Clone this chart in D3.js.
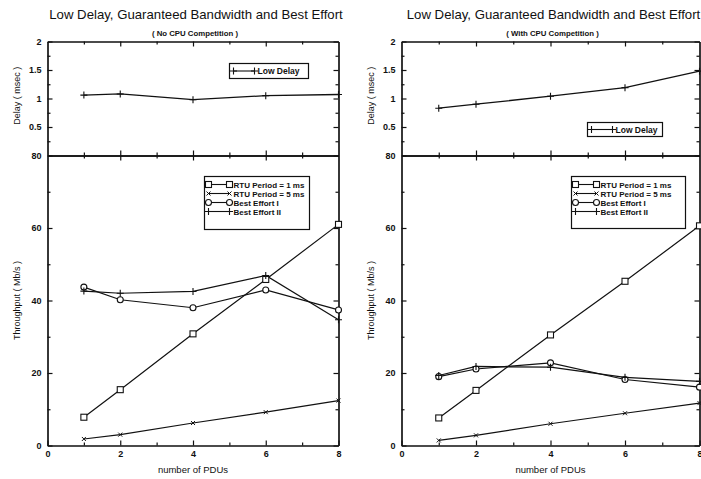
<!DOCTYPE html>
<html>
<head>
<meta charset="utf-8">
<script src="https://cdn.jsdelivr.net/npm/d3@7"></script>
<style>
  body { margin: 0; background: #fff; }
  text { font-family: "Liberation Sans", Arial, Helvetica, sans-serif; fill: #111; }
</style>
</head>
<body>
<div id="chart"></div>
<script>
// Data
var pdus = [1, 2, 4, 6, 8];

var delayNoCpu = [1.06, 1.08, 0.98, 1.05, 1.07];
var rtu1NoCpu = [7.8, 15.4, 30.8, 45.8, 61.0];
var rtu5NoCpu = [1.8, 3.0, 6.2, 9.2, 12.4];
var be1NoCpu = [43.7, 40.2, 38.0, 42.9, 37.4];
var be2NoCpu = [42.6, 42.0, 42.5, 46.9, 34.7];

var delayCpu = [0.83, 0.90, 1.04, 1.19, 1.48];
var rtu1Cpu = [7.6, 15.2, 30.5, 45.3, 60.6];
var rtu5Cpu = [1.4, 2.8, 6.0, 8.9, 11.7];
var be1Cpu = [19.0, 21.1, 22.8, 18.2, 16.1];
var be2Cpu = [19.3, 21.8, 21.6, 18.8, 17.7];

var xTicks = [0, 2, 4, 6, 8];
var delayTicks = [0.5, 1, 1.5, 2];
var tputTicks = [0, 20, 40, 60, 80];

var mainTitle = "Low Delay, Guaranteed Bandwidth and Best Effort";
var legendNames = ["RTU Period = 1 ms", "RTU Period = 5 ms", "Best Effort I", "Best Effort II"];

var width = 701, height = 479;

var svg = d3.select("#chart")
  .append("svg")
  .attr("width", width)
  .attr("height", height);

// Panel layout (pixels)
var plotTop = 41.5, plotMid = 155.5, plotBottom = 445.5;

var panels = [
  { left: 47.5, right: 338.5, sub: "( No CPU Competition )",
    delay: delayNoCpu, series: [rtu1NoCpu, rtu5NoCpu, be1NoCpu, be2NoCpu],
    delayLegend: [229.5, 63.5, 79, 15], legend: [204.5, 176.5, 105, 53] },
  { left: 401.5, right: 699.5, sub: "( With CPU Competition )",
    delay: delayCpu, series: [rtu1Cpu, rtu5Cpu, be1Cpu, be2Cpu],
    delayLegend: [587.5, 122.5, 75, 14], legend: [571.5, 176.5, 114, 52] }
];

var markers = ["square", "cross", "circle", "plus"];

// Draw one marker symbol at (cx, cy)
function marker(g, type, cx, cy) {
  if (type === "square") {
    g.append("rect").attr("x", cx - 3).attr("y", cy - 3).attr("width", 6).attr("height", 6)
      .attr("fill", "#fff").attr("stroke", "#111").attr("stroke-width", 1.1);
  } else if (type === "circle") {
    g.append("circle").attr("cx", cx).attr("cy", cy).attr("r", 3)
      .attr("fill", "#fff").attr("stroke", "#111").attr("stroke-width", 1.1);
  } else if (type === "plus") {
    g.append("path").attr("d", "M" + (cx - 3.5) + "," + cy + "h7M" + cx + "," + (cy - 3.5) + "v7")
      .attr("stroke", "#111").attr("stroke-width", 1.1);
  } else if (type === "cross") {
    g.append("path").attr("d", "M" + (cx - 2) + "," + (cy - 2) + "l4,4M" + (cx - 2) + "," + (cy + 2) + "l4,-4")
      .attr("stroke", "#111").attr("stroke-width", 1);
  }
}

panels.forEach(function (p) {
  var cx = (p.left + p.right) / 2;

  // Titles
  svg.append("text")
    .attr("x", cx + 3).attr("y", 19)
    .attr("text-anchor", "middle")
    .style("font-size", "13.2px")
    .text(mainTitle);
  svg.append("text")
    .attr("x", cx + 2).attr("y", 35.5)
    .attr("text-anchor", "middle")
    .style("font-size", "7.8px")
    .style("font-weight", "bold")
    .text(p.sub);

  // Scales
  var x = d3.scaleLinear().domain([0, 8]).range([p.left, p.right]);
  var yD = d3.scaleLinear().domain([0, 2]).range([plotMid, plotTop]);
  var yT = d3.scaleLinear().domain([0, 80]).range([plotBottom, plotMid]);

  // bottom axis with labels
  var gx = svg.append("g").attr("transform", "translate(0," + plotBottom + ")")
    .call(d3.axisBottom(x).tickValues(xTicks).tickSizeInner(-5).tickSizeOuter(0).tickPadding(5));
  gx.selectAll("text").style("font-size", "9px").style("font-weight", "bold");

  // minor and mirrored x ticks (top edge, divider, bottom edge)
  var minorX = [1, 3, 5, 7];
  [[plotBottom, -1], [plotMid, -1], [plotMid, 1], [plotTop, 1]].forEach(function (s) {
    svg.append("g").attr("transform", "translate(0," + s[0] + ")")
      .call(d3.axisBottom(x).tickValues(minorX).tickSizeInner(3 * s[1]).tickSizeOuter(0).tickFormat(""));
    if (s[0] !== plotBottom) {
      svg.append("g").attr("transform", "translate(0," + s[0] + ")")
        .call(d3.axisBottom(x).tickValues([2, 4, 6]).tickSizeInner(5 * s[1]).tickSizeOuter(0).tickFormat(""));
    }
  });

  // left y axes with labels
  var gyD = svg.append("g").attr("transform", "translate(" + p.left + ",0)")
    .call(d3.axisLeft(yD).tickValues(delayTicks).tickSizeInner(-5).tickSizeOuter(0).tickPadding(6)
      .tickFormat(d3.format("")));
  var gyT = svg.append("g").attr("transform", "translate(" + p.left + ",0)")
    .call(d3.axisLeft(yT).tickValues(tputTicks).tickSizeInner(-5).tickSizeOuter(0).tickPadding(6));
  [gyD, gyT].forEach(function (g) {
    g.selectAll("text").style("font-size", "9px").style("font-weight", "bold");
  });

  // minor y ticks and right side mirrors
  var minorD = [0.25, 0.75, 1.25, 1.75], minorT = [10, 30, 50, 70];
  svg.append("g").attr("transform", "translate(" + p.left + ",0)")
    .call(d3.axisLeft(yD).tickValues(minorD).tickSizeInner(-3).tickSizeOuter(0).tickFormat(""));
  svg.append("g").attr("transform", "translate(" + p.left + ",0)")
    .call(d3.axisLeft(yT).tickValues(minorT).tickSizeInner(-3).tickSizeOuter(0).tickFormat(""));
  svg.append("g").attr("transform", "translate(" + p.right + ",0)")
    .call(d3.axisRight(yD).tickValues(delayTicks).tickSizeInner(-5).tickSizeOuter(0).tickFormat(""));
  svg.append("g").attr("transform", "translate(" + p.right + ",0)")
    .call(d3.axisRight(yT).tickValues(tputTicks).tickSizeInner(-5).tickSizeOuter(0).tickFormat(""));
  svg.append("g").attr("transform", "translate(" + p.right + ",0)")
    .call(d3.axisRight(yD).tickValues(minorD).tickSizeInner(-3).tickSizeOuter(0).tickFormat(""));
  svg.append("g").attr("transform", "translate(" + p.right + ",0)")
    .call(d3.axisRight(yT).tickValues(minorT).tickSizeInner(-3).tickSizeOuter(0).tickFormat(""));

  svg.selectAll(".domain, .tick line").attr("stroke", "#111").attr("stroke-width", 1.2);

  // Axis titles
  svg.append("text")
    .attr("transform", "translate(" + (p.left - 28) + "," + yD(1.05) + ") rotate(-90)")
    .attr("text-anchor", "middle")
    .style("font-size", "9px")
    .text("Delay ( msec )");
  svg.append("text")
    .attr("transform", "translate(" + (p.left - 28) + "," + yT(40) + ") rotate(-90)")
    .attr("text-anchor", "middle")
    .style("font-size", "9px")
    .text("Throughput ( Mb/s )");
  svg.append("text")
    .attr("x", cx).attr("y", 473)
    .attr("text-anchor", "middle")
    .style("font-size", "9.5px")
    .text("number of PDUs");

  // Lines
  var lineD = d3.line().x(function (d, i) { return x(pdus[i]); }).y(function (d) { return yD(d); });
  var lineT = d3.line().x(function (d, i) { return x(pdus[i]); }).y(function (d) { return yT(d); });

  var plot = svg.append("g");
  plot.append("path").datum(p.delay).attr("d", lineD)
    .attr("fill", "none").attr("stroke", "#111").attr("stroke-width", 1.3);
  p.delay.forEach(function (v, i) { marker(plot, "plus", x(pdus[i]), yD(v)); });

  p.series.forEach(function (s) {
    plot.append("path").datum(s).attr("d", lineT)
      .attr("fill", "none").attr("stroke", "#111").attr("stroke-width", 1.2);
  });
  p.series.forEach(function (s, k) {
    s.forEach(function (v, i) { marker(plot, markers[k], x(pdus[i]), yT(v)); });
  });

  // Delay legend
  var dl = p.delayLegend;
  var lg = svg.append("g");
  lg.append("rect").attr("x", dl[0]).attr("y", dl[1]).attr("width", dl[2]).attr("height", dl[3])
    .attr("fill", "#fff").attr("stroke", "#111").attr("stroke-width", 1.2);
  lg.append("line").attr("x1", dl[0] + 4).attr("x2", dl[0] + 25)
    .attr("y1", dl[1] + dl[3] / 2).attr("y2", dl[1] + dl[3] / 2)
    .attr("stroke", "#111").attr("stroke-width", 1.1);
  marker(lg, "plus", dl[0] + 4, dl[1] + dl[3] / 2);
  marker(lg, "plus", dl[0] + 25, dl[1] + dl[3] / 2);
  lg.append("text").attr("x", dl[0] + 28).attr("y", dl[1] + dl[3] / 2 + 3)
    .style("font-size", "8.5px").style("font-weight", "bold").text("Low Delay");

  // Throughput legend
  var tl = p.legend;
  var tg = svg.append("g");
  tg.append("rect").attr("x", tl[0]).attr("y", tl[1]).attr("width", tl[2]).attr("height", tl[3])
    .attr("fill", "#fff").attr("stroke", "#111").attr("stroke-width", 1.2);
  legendNames.forEach(function (name, k) {
    var yy = tl[1] + 8 + k * 9;
    tg.append("line").attr("x1", tl[0] + 4).attr("x2", tl[0] + 25).attr("y1", yy).attr("y2", yy)
      .attr("stroke", "#111").attr("stroke-width", 1.1);
    marker(tg, markers[k], tl[0] + 4, yy);
    marker(tg, markers[k], tl[0] + 25, yy);
    tg.append("text").attr("x", tl[0] + 29).attr("y", yy + 3)
      .style("font-size", "8px").style("font-weight", "bold").text(name);
  });
});
</script>
</body>
</html>
